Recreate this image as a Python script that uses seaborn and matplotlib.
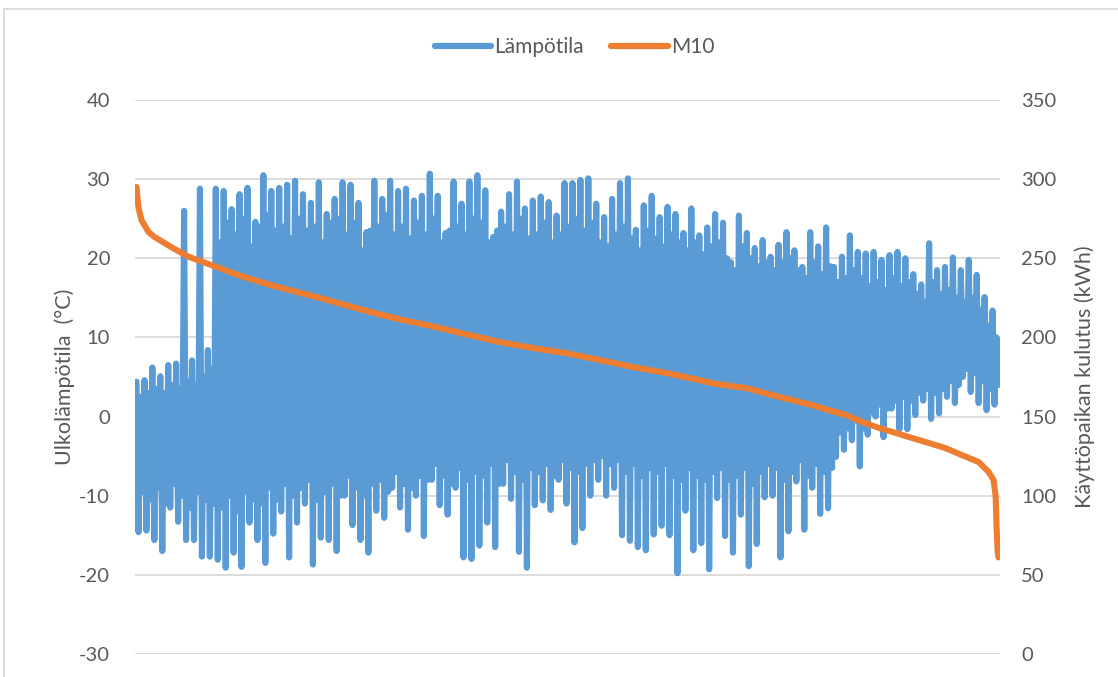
import numpy as np
import pandas as pd
import matplotlib
matplotlib.use("Agg")
import matplotlib.pyplot as plt
from matplotlib.lines import Line2D
from matplotlib.patches import Rectangle
import seaborn as sns

# Lämpötila: hourly outdoor temperature, read per short stretch as
# local peak, local trough and the upper / lower edge of the dense core
temp_peaks = [4.4, 4.6, 6.2, 5.1, 6.5, 6.7, 26.0, 7.1, 28.8, 8.4,
              28.8, 28.5, 26.2, 28.1, 28.9, 24.6, 30.5, 28.5, 28.9, 29.3,
              29.8, 28.1, 27.0, 29.6, 25.6, 27.5, 29.6, 29.3, 27.0, 23.3,
              29.8, 27.5, 29.8, 28.5, 28.8, 27.3, 27.9, 30.7, 27.9, 23.2,
              29.7, 26.9, 29.7, 30.5, 28.6, 22.7, 25.9, 28.1, 29.7, 26.3,
              27.3, 27.8, 27.1, 25.4, 29.5, 29.5, 29.9, 30.1, 26.9, 25.2,
              27.5, 29.5, 30.1, 23.6, 26.7, 27.9, 25.2, 26.5, 25.6, 23.2,
              26.3, 22.9, 23.9, 25.6, 24.5, 19.5, 25.4, 23.2, 21.3, 22.3,
              20.2, 21.7, 23.3, 21.0, 18.9, 23.3, 21.5, 23.9, 18.9, 20.2,
              22.9, 20.8, 20.6, 20.8, 19.8, 20.4, 20.8, 20.0, 18.0, 16.7,
              21.9, 18.5, 18.9, 20.1, 18.5, 19.8, 17.9, 15.1, 13.4]
temp_troughs = [-14.6, -14.4, -15.6, -17.0, -11.5, -13.3, -15.6, -15.6, -17.7, -17.7,
                -18.1, -19.1, -17.2, -19.0, -13.4, -15.6, -18.5, -14.8, -12.0, -17.8,
                -13.4, -11.0, -18.7, -15.3, -15.6, -17.0, -10.0, -13.7, -15.6, -17.2,
                -11.9, -12.8, -9.0, -11.5, -14.3, -10.0, -15.1, -8.0, -11.2, -12.4,
                -9.0, -17.8, -18.0, -16.3, -13.4, -16.5, -8.5, -10.4, -17.1, -19.1,
                -11.2, -10.6, -11.8, -8.0, -11.0, -15.9, -14.1, -10.0, -8.0, -10.0,
                -9.0, -15.0, -15.7, -16.5, -16.9, -14.9, -13.8, -15.0, -19.8, -11.9,
                -16.9, -16.0, -19.3, -10.3, -15.1, -17.2, -12.4, -18.9, -16.1, -10.2,
                -10.0, -17.8, -14.5, -8.2, -14.3, -9.0, -12.3, -11.6, -5.1, -4.2,
                -3.0, -6.3, -2.3, 0.0, -2.6, 1.0, -1.6, -1.6, 0.2, 2.0,
                -0.3, 0.4, 2.5, 1.7, 5.0, 3.1, 1.7, 0.8, 1.5]
temp_core_high = [2.5, 3.0, 3.5, 3.0, 4.0, 3.5, 4.5, 4.0, 5.0, 6.0,
                  22.0, 24.5, 23.0, 25.0, 21.5, 24.0, 25.5, 23.5, 24.0, 22.5,
                  25.0, 23.5, 24.0, 22.0, 24.5, 25.0, 23.0, 24.5, 21.0, 23.5,
                  24.0, 25.5, 23.0, 24.0, 22.5, 24.5, 23.0, 25.0, 22.0, 23.5,
                  24.0, 23.0, 25.0, 24.5, 22.0, 23.5, 24.0, 23.0, 25.0, 22.5,
                  23.0, 24.5, 22.0, 23.0, 24.0, 25.0, 23.5, 24.5, 22.0, 21.5,
                  23.0, 24.0, 22.5, 21.0, 23.5, 22.5, 21.5, 23.0, 22.0, 21.0,
                  22.0, 20.5, 21.5, 22.0, 20.0, 18.5, 21.5, 20.0, 19.0, 19.5,
                  18.5, 19.5, 20.0, 18.5, 17.5, 19.5, 18.0, 19.0, 17.0, 17.5,
                  18.5, 17.5, 16.5, 17.0, 16.0, 17.5, 16.5, 17.0, 15.5, 14.5,
                  17.0, 15.5, 16.0, 15.0, 14.5, 15.0, 13.5, 11.5, 10.0]
temp_core_low = [-9.5, -10.5, -9.0, -11.0, -8.5, -10.0, -11.5, -9.5, -10.5, -11.0,
                 -11.5, -10.0, -12.0, -9.5, -10.5, -11.0, -9.0, -10.5, -8.5, -10.0,
                 -9.0, -8.0, -10.5, -9.5, -8.5, -10.0, -7.5, -9.0, -10.0, -8.5,
                 -8.0, -9.5, -7.0, -8.5, -9.0, -7.5, -8.0, -6.0, -7.5, -8.5,
                 -6.5, -8.0, -7.0, -7.5, -6.0, -8.5, -5.5, -7.0, -8.0, -6.5,
                 -7.0, -6.0, -7.5, -5.5, -6.5, -7.0, -6.0, -5.5, -5.0, -6.0,
                 -5.5, -7.0, -6.0, -7.5, -6.5, -7.0, -6.0, -7.5, -8.0, -6.5,
                 -7.5, -8.0, -7.0, -6.5, -8.0, -7.5, -6.5, -8.5, -7.0, -6.0,
                 -6.5, -8.0, -7.0, -5.5, -7.5, -6.0, -7.0, -6.5, -2.0, -1.5,
                 -0.5, -1.5, 0.5, 1.5, 1.0, 2.0, 2.5, 2.0, 3.0, 3.5,
                 3.0, 3.5, 4.5, 4.0, 6.0, 5.5, 4.5, 3.5, 4.0]

# M10: consumption duration curve (hour rank, kWh)
m10_hour = [0, 10, 20, 51, 122, 182, 354, 527, 760, 1033, 1367, 1873, 2380,
            2684, 3018, 3362, 3696, 4030, 4375, 4709, 5043, 5387, 5722, 5853,
            6198, 6532, 6866, 7038, 7210, 7372, 7545, 7717, 7879, 8051, 8223,
            8385, 8557, 8659, 8709, 8730, 8740, 8750, 8759]
m10_kwh = [295, 288, 282, 274, 266.6, 263.5, 257, 251, 245.7, 239.4, 233, 224.8, 216,
           211.3, 206.9, 201.8, 197, 193.3, 190, 185.7, 181.3, 177.5, 173, 171,
           168, 162.4, 157.3, 154, 151, 146.6, 142.8, 139.6, 136.5, 133.3, 130,
           125.7, 121.3, 115, 110, 100, 80, 65, 61]

left_ticks = [-30, -20, -10, 0, 10, 20, 30, 40]
right_ticks = [0, 50, 100, 150, 200, 250, 300, 350]

BLUE = "#5B9BD5"
ORANGE = "#ED7D31"
GREY = "#595959"

temp = [v for group in zip(temp_peaks, temp_troughs, temp_core_high, temp_core_low)
        for v in group]
temp_df = pd.DataFrame({"hour": np.linspace(0, 8759, len(temp)), "temp": temp})
m10_df = pd.DataFrame({"hour": m10_hour, "kwh": m10_kwh})

sns.set_theme(style="white")
plt.rcParams["font.family"] = ["Lato", "DejaVu Sans"]
plt.rcParams["axes.unicode_minus"] = False

fig = plt.figure(figsize=(11.18, 6.77), dpi=100)
ax = fig.add_axes([0.1208, 0.034, 0.7737, 0.8183])
ax2 = ax.twinx()

sns.lineplot(data=temp_df, x="hour", y="temp", ax=ax, color=BLUE, linewidth=4.4,
             estimator=None, sort=False, solid_capstyle="round", solid_joinstyle="round")
sns.lineplot(data=m10_df, x="hour", y="kwh", ax=ax2, color=ORANGE, linewidth=4.4,
             estimator=None, sort=False, solid_capstyle="round", solid_joinstyle="round")

ax.set_xlim(-15, 8775)
ax.set_ylim(-30, 40)
ax2.set_ylim(0, 350)
ax.set_yticks(left_ticks)
ax2.set_yticks(right_ticks)
ax.set_xticks([])
ax.yaxis.grid(True, color="#d9d9d9", linewidth=1.3)
ax.set_axisbelow(True)
for a in (ax, ax2):
    for s in a.spines.values():
        s.set_visible(False)
    a.tick_params(axis="y", length=0, labelsize=14.5, labelcolor=GREY)
ax.tick_params(axis="y", pad=18)
ax2.tick_params(axis="y", pad=15)
ax.set_xlabel("")
ax.set_ylabel("Ulkolämpötila  (°C)", fontsize=15.5, color=GREY, labelpad=3)
ax2.set_ylabel("Käyttöpaikan kulutus (kWh)", fontsize=15.5, color=GREY, labelpad=13)

handles = [Line2D([], [], color=BLUE, linewidth=4.5, solid_capstyle="round"),
           Line2D([], [], color=ORANGE, linewidth=4.5, solid_capstyle="round")]
fig.legend(handles, ["Lämpötila", "M10"], loc="center", bbox_to_anchor=(0.514, 0.93),
           ncol=2, frameon=False, fontsize=15, handlelength=2.7, handletextpad=0.15,
           columnspacing=1.3, labelcolor=GREY)

fig.patches.append(Rectangle((4 / 1118, -0.1), 1.2, 1.1 - 10 / 677 + 0.001,
                             transform=fig.transFigure, fill=False,
                             edgecolor="#d9d9d9", linewidth=1.3))

fig.savefig("out.png", dpi=100)
